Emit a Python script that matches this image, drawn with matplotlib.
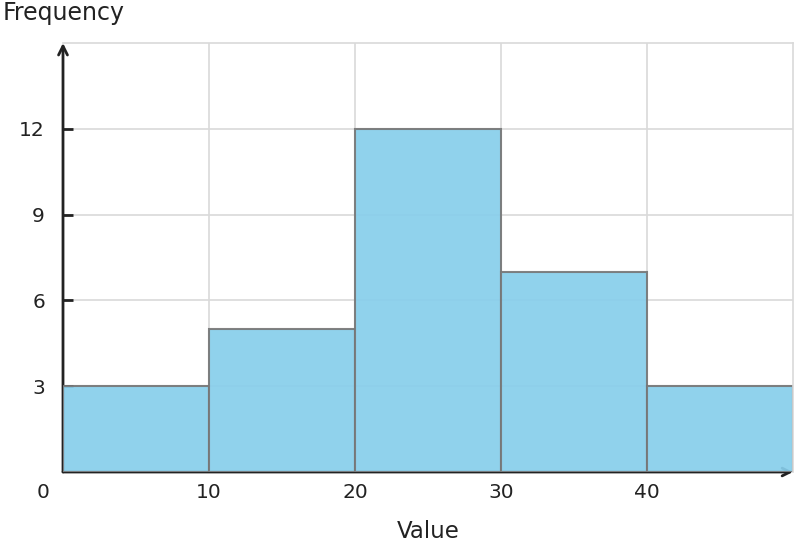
import matplotlib.pyplot as plt

# histogram bins and counts
bin_edges = [0, 10, 20, 30, 40, 50]
counts = [3, 5, 12, 7, 3]
y_ticks = [3, 6, 9, 12]
x_ticks = [10, 20, 30, 40]

fig = plt.figure(figsize=(7.96, 5.48), dpi=100)
ax = fig.add_axes([63 / 796, 1 - 472 / 548, 730 / 796, 429 / 548])

ax.set_xlim(0, 50)
ax.set_ylim(0, 15)

# grid
ax.set_axisbelow(True)
for x in x_ticks:
    ax.axvline(x, color='#d9d9d9', lw=1.2, zorder=0)
for y in y_ticks:
    ax.axhline(y, color='#d9d9d9', lw=1.2, zorder=0)

for side in ['top', 'right']:
    ax.spines[side].set_color('#d9d9d9')
    ax.spines[side].set_linewidth(1.2)
for side in ['left', 'bottom']:
    ax.spines[side].set_visible(False)

# axis arrows
ax.annotate('', xy=(1, 0), xytext=(0, 0), xycoords='axes fraction',
            arrowprops=dict(arrowstyle='->', color='#222222', lw=2,
                            shrinkA=0, shrinkB=0, mutation_scale=14), zorder=1)
ax.annotate('', xy=(0, 1), xytext=(0, 0), xycoords='axes fraction',
            arrowprops=dict(arrowstyle='->', color='#222222', lw=2,
                            shrinkA=0, shrinkB=0, mutation_scale=16), zorder=1)

ax.bar(bin_edges[:-1], counts, width=10, align='edge', color='#87CEEB',
       alpha=0.92, edgecolor='#777777', linewidth=1.5, zorder=2)

ax.set_yticks(y_ticks)
ax.set_yticklabels([str(v) for v in y_ticks])
ax.tick_params(axis='y', direction='in', length=7, width=2, color='#222222',
               labelsize=14.5, labelcolor='#222222', pad=13)
ax.set_xticks(x_ticks)
ax.set_xticklabels([str(v) for v in x_ticks])
ax.tick_params(axis='x', length=0, labelsize=14.5, labelcolor='#222222', pad=8)

# origin label
ax.text(-20 / 14.6, -20 / 28.6, '0', ha='center', va='center', fontsize=14.5,
        color='#222222')

fig.text(3 / 796, 1 - 13 / 548, 'Frequency', ha='left', va='center',
         fontsize=17, color='#222222')
fig.text(428 / 796, 1 - 531 / 548, 'Value', ha='center', va='center',
         fontsize=16.5, color='#222222')

fig.savefig('out.png', dpi=100)
